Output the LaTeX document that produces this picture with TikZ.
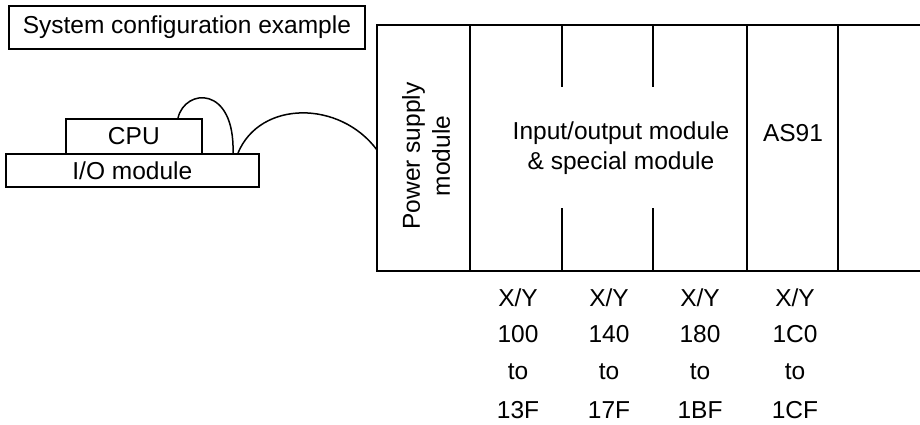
\documentclass[tikz,border=0pt]{standalone}
\usepackage{fontspec}
\setmainfont{Liberation Sans}
\begin{document}
\begin{tikzpicture}[x=1pt,y=-1pt,line width=1.7pt,
                    font=\fontsize{24.5}{30}\selectfont,
                    unitbox/.style={draw,inner sep=0pt,anchor=north west},
                    cable/.style={line width=1.5pt}]
                              \useasboundingbox (0,0) rectangle (920,425);

                              % Title
                              \node[unitbox,minimum width=356pt,minimum height=43pt] (title) at (8,5) {System configuration example};

                              % CPU and I/O module
                              \node[unitbox,minimum width=136pt,minimum height=35pt] (cpu) at (65,118) {CPU};
                              \node[unitbox,minimum width=253pt,minimum height=33pt] (io) at (5,153) {I/O module};

                              % Base unit
                              \draw (920,25) -| (377,271) -- (920,271);
                              \foreach \x in {470,747,838}
                                    \draw (\x,25) -- (\x,271);
                              \foreach \x in {562,653}{
                                    \draw (\x,25) -- (\x,87);
                                    \draw (\x,208) -- (\x,271);
                              }

                              % Module labels
                              \node[rotate=90,align=center] (power) at (426,156) {Power supply\\module};
                              \node[align=center] (iomod) at (621,148) {Input/output module\\\& special module};
                              \node (as91) at (793,133) {AS91};

                              % Cables
                              \coordinate (cpuTop) at (178,118);
                              \coordinate (ioTopA) at (233,153);
                              \coordinate (ioTopB) at (238,153);
                              \coordinate (psIn) at (377,150);
                              \draw[cable] (cpuTop) .. controls (185,88) and (235,85) .. (ioTopA);
                              \draw[cable] (ioTopB) .. controls (260,100) and (340,100) .. (psIn);

                              % Address ranges
                              \foreach \x/\a/\b [count=\i] in {518/100/13F,609/140/17F,700/180/1BF,795/1C0/1CF}{
                                    \node (xy\i) at (\x,298) {X/Y};
                                    \node (from\i) at (\x,334) {\a};
                                    \node (to\i) at (\x,372) {to};
                                    \node (end\i) at (\x,410) {\b};
                              }
                        \end{tikzpicture}
\end{document}
